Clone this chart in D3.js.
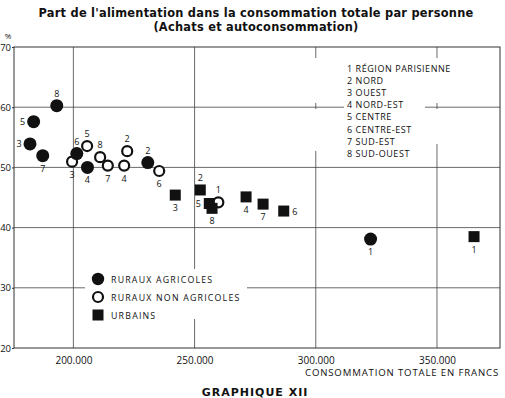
<!DOCTYPE html>
<html><head><meta charset="utf-8">
<script src="https://cdn.jsdelivr.net/npm/d3@7"></script>
<style>
html,body{margin:0;padding:0;background:#fff;}
svg text{font-family:"Open Sans","DejaVu Sans",sans-serif;fill:#111;}
</style></head>
<body>
<svg id="c" width="505" height="398"></svg>
<script>
// ---- data ----
const regions = ["RÉGION PARISIENNE","NORD","OUEST","NORD-EST","CENTRE","CENTRE-EST","SUD-EST","SUD-OUEST"];
const regionNumbers = ["1","2","3","4","5","6","7","8"];
const seriesNames = ["RURAUX AGRICOLES","RURAUX NON AGRICOLES","URBAINS"];
// x: consommation totale (francs), y: part de l'alimentation (%)
const ruralAgriX = [322600, 230700, 182100, 205800, 183600, 201400, 187350, 193140];
const ruralAgriY = [38.1, 50.8, 53.9, 50.0, 57.6, 52.3, 51.95, 60.25];
const ruralNonAgriX = [259800, 222200, 199460, 220950, 205660, 235400, 214200, 211030];
const ruralNonAgriY = [44.2, 52.7, 50.95, 50.3, 53.55, 49.4, 50.3, 51.7];
const urbainX = [365290, 252350, 242030, 271240, 256070, 286780, 278260, 257200];
const urbainY = [38.5, 46.25, 45.4, 45.1, 44.0, 42.75, 43.9, 43.2];
// label placement of each region number next to its mark
const ruralAgriLabelSide = ["below","above","left","below","left","above","below","above"];
const ruralNonAgriLabelSide = ["above","above","below","below","above","below","below","above"];
const urbainLabelSide = ["below","above","below","below","left","right","below","below"];
const yTicks = [20,30,40,50,60,70];
const xTicks = [200000,250000,300000,350000];
const titleLines = ["Part de l'alimentation dans la consommation totale par personne","(Achats et autoconsommation)"];
const xAxisTitle = "CONSOMMATION TOTALE EN FRANCS";
const yUnit = "%";
const figureTitle = "GRAPHIQUE XII";

// ---- chart ----
const svg = d3.select("#c");
const L = 14, R = 500, T = 47, B = 348;
const x = d3.scaleLinear().domain([175500, 376000]).range([L, R]);
const y = d3.scaleLinear().domain([20, 70]).range([B, T]);
const ink = "#111";

// title
svg.append("g").selectAll("text").data(titleLines).join("text")
  .attr("x", 256).attr("y", (d,i)=> 17 + i*14)
  .attr("text-anchor","middle")
  .style("font-family","'DejaVu Sans',sans-serif")
  .style("font-weight","bold").style("font-size","11.4px").style("letter-spacing","0.25px")
  .text(d=>d);

// grid
const grid = svg.append("g").attr("stroke","#444").attr("stroke-width",0.8);
grid.selectAll("line.h").data(yTicks.filter(v=>v>20 && v<70)).join("line")
  .attr("x1",L).attr("x2",R).attr("y1",d=>y(d)).attr("y2",d=>y(d));
grid.selectAll("line.v").data(xTicks).join("line")
  .attr("y1",T).attr("y2",B).attr("x1",d=>x(d)).attr("x2",d=>x(d));
// frame
svg.append("rect").attr("x",L).attr("y",T).attr("width",R-L).attr("height",B-T)
  .attr("fill","none").attr("stroke","#333").attr("stroke-width",1);

// axes
const yAxis = svg.append("g").attr("transform",`translate(${L},0)`)
  .call(d3.axisLeft(y).tickValues(yTicks).tickSize(2).tickPadding(1));
yAxis.select(".domain").remove();
yAxis.selectAll("text").style("font-size","9.5px").style("font-family","'Open Sans',sans-serif").attr("fill",ink);
yAxis.selectAll("line").attr("stroke","#333");
svg.append("text").attr("x",8).attr("y",39).attr("text-anchor","middle")
  .style("font-size","8px").text(yUnit);

const fmt = d => d3.format(",")(d).replace(/,/g,".");
const xAxis = svg.append("g").attr("transform",`translate(0,${B})`)
  .call(d3.axisBottom(x).tickValues(xTicks).tickFormat(fmt).tickSize(0).tickPadding(9));
xAxis.select(".domain").remove();
xAxis.selectAll("text").style("font-size","10px").style("font-family","'Open Sans',sans-serif").attr("fill",ink);
svg.append("text").attr("x",499).attr("y",376).attr("text-anchor","end")
  .style("font-size","9.6px").style("letter-spacing","0.85px").text(xAxisTitle);

// region legend (white patch over the grid)
svg.append("rect").attr("x",344).attr("y",58).attr("width",81).attr("height",100).attr("fill","#fff");
const vGaps = [[312,58,103],[312,109,151],[432,58,103],[432,109,144]];
svg.append("g").selectAll("rect").data(vGaps).join("rect")
  .attr("x",d=>d[0]).attr("y",d=>d[1]).attr("width",10).attr("height",d=>d[2]-d[1]).attr("fill","#fff");
svg.append("g").selectAll("text").data(regions).join("text")
  .attr("x",347).attr("y",(d,i)=>72 + i*12.1)
  .style("font-size","9px").style("letter-spacing","0.55px")
  .text((d,i)=> regionNumbers[i] + " " + d);

// series legend
svg.append("rect").attr("x",85).attr("y",269).attr("width",162).attr("height",50).attr("fill","#fff");
const lg = svg.append("g");
const lgY = [279, 297, 315];
lg.append("circle").attr("cx",98).attr("cy",lgY[0]).attr("r",6.2).attr("fill",ink);
lg.append("circle").attr("cx",98).attr("cy",lgY[1]).attr("r",5).attr("fill","#fff").attr("stroke",ink).attr("stroke-width",2.2);
lg.append("rect").attr("x",92.5).attr("y",lgY[2]-5.5).attr("width",11).attr("height",11).attr("fill",ink);
lg.selectAll("text").data(seriesNames).join("text")
  .attr("x",111).attr("y",(d,i)=>lgY[i]+3.6)
  .style("font-size","8.8px").style("letter-spacing","1.2px").text(d=>d);

// marks
function rows(xs, ys, sides){ return xs.map((v,i)=>({x:v, y:ys[i], n:regionNumbers[i], side:sides[i]})); }
const nonAgri = rows(ruralNonAgriX, ruralNonAgriY, ruralNonAgriLabelSide);
const agri = rows(ruralAgriX, ruralAgriY, ruralAgriLabelSide);
const urb = rows(urbainX, urbainY, urbainLabelSide);

const marks = svg.append("g");
marks.selectAll("circle.o").data(nonAgri).join("circle")
  .attr("cx",d=>x(d.x)).attr("cy",d=>y(d.y)).attr("r",5)
  .attr("fill","#fff").attr("stroke",ink).attr("stroke-width",2.2);
marks.selectAll("circle.f").data(agri).join("circle")
  .attr("cx",d=>x(d.x)).attr("cy",d=>y(d.y)).attr("r",6.5).attr("fill",ink);
marks.selectAll("rect.u").data(urb).join("rect")
  .attr("x",d=>x(d.x)-5.5).attr("y",d=>y(d.y)-5.5).attr("width",11).attr("height",11).attr("fill",ink);

const off = {above:[0,-9], below:[0,16], left:[-11,3.5], right:[11,3.5]};
const labels = svg.append("g");
[agri, nonAgri, urb].forEach(set=>{
  labels.append("g").selectAll("text").data(set).join("text")
    .attr("x",d=>x(d.x)+off[d.side][0]).attr("y",d=>y(d.y)+off[d.side][1])
    .attr("text-anchor","middle").style("font-size","9px").text(d=>d.n);
});

// figure caption at the bottom edge
svg.append("text").attr("x",255).attr("y",396).attr("text-anchor","middle")
  .style("font-family","'DejaVu Sans',sans-serif").style("font-weight","bold")
  .style("font-size","11px").style("letter-spacing","1px").text(figureTitle);
</script>
</body></html>
